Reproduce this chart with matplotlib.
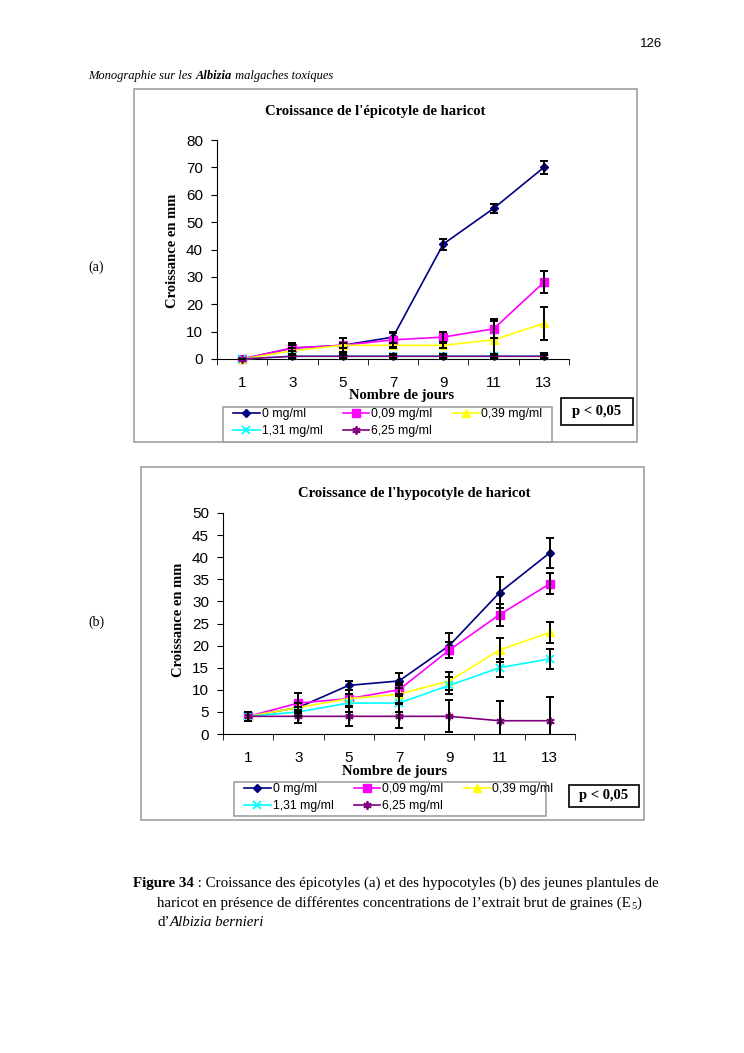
import matplotlib.pyplot as plt
from matplotlib.patches import Rectangle
from matplotlib.lines import Line2D

W, H = 744, 1053

# --- data ---
days = ['1', '3', '5', '7', '9', '11', '13']
series = ['0 mg/ml', '0,09 mg/ml', '0,39 mg/ml', '1,31 mg/ml', '6,25 mg/ml']

# (a) epicotyle
epi_0 = [0, 4, 5, 8, 42, 55, 70]
epi_009 = [0, 4, 5, 7, 8, 11, 28]
epi_039 = [0, 3, 5, 5, 5, 7, 13]
epi_131 = [0, 1, 1, 1, 1, 1, 1]
epi_625 = [0, 1, 1, 1, 1, 1, 1]
epi_err_0 = [0, 1, 1, 2, 2, 1.5, 2.5]
epi_err_009 = [0, 2, 2.5, 2.5, 1.8, 3.5, 4]
epi_err_039 = [0, 1, 1, 1, 1, 7, 6]
epi_err_131 = [0, 0.5, 0.5, 0.5, 0.5, 0.5, 0.5]
epi_err_625 = [0, 1, 1, 1, 1, 1, 1.2]

# (b) hypocotyle
hyp_0 = [4, 6, 11, 12, 20, 32, 41]
hyp_009 = [4, 7, 8, 10, 19, 27, 34]
hyp_039 = [4, 6, 8, 9, 12, 19, 23]
hyp_131 = [4, 5, 7, 7, 11, 15, 17]
hyp_625 = [4, 4, 4, 4, 4, 3, 3]
hyp_err_0 = [1, 1, 1, 1.7, 2.8, 3.5, 3.4]
hyp_err_009 = [1, 2.3, 2, 1.5, 1.8, 2.5, 2.4]
hyp_err_039 = [1, 1, 2, 2, 2, 2.8, 2.3]
hyp_err_131 = [1, 1, 2, 2, 2, 2, 2.2]
hyp_err_625 = [1, 1.4, 2.3, 2.7, 3.6, 4.5, 5.3]

colors = ['#000080', '#FF00FF', '#FFFF00', '#00FFFF', '#800080']
markers = ['D', 's', '^', 'x', (6, 2, 0)]
msizes = [4.5, 6, 6, 6, 6]

serif = 'Liberation Serif'
sans = 'Liberation Sans'


def box(x0, y0, x1, y1):
    return [x0 / W, 1 - y1 / H, (x1 - x0) / W, (y1 - y0) / H]


def fx(x):
    return x / W


def fy(y):
    return 1 - y / H


fig = plt.figure(figsize=(W / 100, H / 100), dpi=100)
renderer = fig.canvas.get_renderer()


def runs(x, y, parts, size):
    # write text pieces one after another on the same baseline
    for txt, kw in parts:
        opts = dict(fontsize=size, family=serif, ha='left', va='baseline')
        kw = dict(kw)
        dy = kw.pop('dy', 0)
        opts.update(kw)
        t = fig.text(fx(x), fy(y + dy), txt, **opts)
        x += t.get_window_extent(renderer).width


# page text
fig.text(fx(662), fy(44), '126', fontsize=9.5, family=sans,
         ha='right', va='center')
runs(88, 79, [('Monographie sur les ', dict(style='italic')),
              ('Albizia', dict(style='italic', weight='bold')),
              (' malgaches toxiques', dict(style='italic'))], 9)
fig.text(fx(88), fy(267), '(a)', fontsize=10, family=serif, va='center')
fig.text(fx(88), fy(622), '(b)', fontsize=10, family=serif, va='center')


def draw_chart(frame, axbox, ylim, ystep, data, errs, title, title_xy,
               ylab_xy, xlab_xy, leg_box, p_box):
    # outer frame
    fig.patches.append(Rectangle((fx(frame[0]), fy(frame[3])),
                                 (frame[2] - frame[0]) / W, (frame[3] - frame[1]) / H,
                                 transform=fig.transFigure, fill=False,
                                 edgecolor='#a0a0a0', linewidth=1.2))
    ax = fig.add_axes(box(*axbox))
    x = list(range(len(days)))
    for vals, err, c, m, ms in zip(data, errs, colors, markers, msizes):
        ax.plot(x, vals, color=c, marker=m, markersize=ms, linewidth=1.2,
                markeredgewidth=1.3 if m == 'x' or isinstance(m, tuple) else 1,
                clip_on=False, zorder=3)
        ax.errorbar(x, vals, yerr=err, fmt='none', ecolor='black',
                    elinewidth=1.4, capsize=3, capthick=1.4, zorder=4)
    ax.set_xlim(-0.5, len(days) - 0.5)
    ax.set_ylim(*ylim)
    ax.set_yticks(range(ylim[0], ylim[1] + 1, ystep))
    ax.set_xticks(x)
    ax.set_xticklabels(days)
    ax.set_xticks([i - 0.5 for i in range(len(days) + 1)], minor=True)
    ax.tick_params(axis='x', which='major', length=0, pad=12, labelsize=11)
    ax.tick_params(axis='x', which='minor', length=4, direction='out')
    ax.tick_params(axis='y', length=4, direction='out', pad=6, labelsize=11)
    for lab in ax.get_xticklabels() + ax.get_yticklabels():
        lab.set_family(sans)
    ax.spines['top'].set_visible(False)
    ax.spines['right'].set_visible(False)
    ax.patch.set_alpha(0)

    fig.text(fx(title_xy[0]), fy(title_xy[1]), title, fontsize=10.5, family=serif,
             weight='bold', ha='center', va='center')
    fig.text(fx(ylab_xy[0]), fy(ylab_xy[1]), 'Croissance en mm', fontsize=10.5,
             family=serif, weight='bold', rotation=90, ha='center', va='center')
    fig.text(fx(xlab_xy[0]), fy(xlab_xy[1]), 'Nombre de jours', fontsize=10.5,
             family=serif, weight='bold', ha='center', va='center')

    # legend, filled row by row like the original
    handles = [Line2D([], [], color=c, marker=m, markersize=ms, linewidth=1.2,
                      markeredgewidth=1.3 if m == 'x' or isinstance(m, tuple) else 1)
               for c, m, ms in zip(colors, markers, msizes)]
    order = [0, 3, 1, 4, 2]
    fig.patches.append(Rectangle((fx(leg_box[0]), fy(leg_box[3])),
                                 (leg_box[2] - leg_box[0]) / W,
                                 (leg_box[3] - leg_box[1]) / H,
                                 transform=fig.transFigure, facecolor='white',
                                 edgecolor='#a0a0a0', linewidth=1.2, zorder=1))
    fig.legend([handles[i] for i in order], [series[i] for i in order], ncol=3,
               loc='upper left',
               bbox_to_anchor=(fx(leg_box[0] + 8), fy(leg_box[1] - 1)),
               frameon=False, prop={'family': sans, 'size': 8.8},
               handlelength=2.2, handletextpad=0.15, columnspacing=1.65,
               labelspacing=0.45, borderpad=0.15, borderaxespad=0)

    # p box
    fig.patches.append(Rectangle((fx(p_box[0]), fy(p_box[3])),
                                 (p_box[2] - p_box[0]) / W, (p_box[3] - p_box[1]) / H,
                                 transform=fig.transFigure, fill=False,
                                 edgecolor='black', linewidth=1.2))
    fig.text(fx((p_box[0] + p_box[2]) / 2), fy((p_box[1] + p_box[3]) / 2), 'p < 0,05',
             fontsize=10.5, family=serif, weight='bold', ha='center', va='center')
    return ax


draw_chart((134, 89, 637, 442), (217, 140, 569, 359), (0, 80), 10,
           [epi_0, epi_009, epi_039, epi_131, epi_625],
           [epi_err_0, epi_err_009, epi_err_039, epi_err_131, epi_err_625],
           "Croissance de l'épicotyle de haricot", (375, 111), (172, 251),
           (402, 395), (223, 407, 552, 442), (561, 398, 633, 425))

draw_chart((141, 467, 644, 820), (223, 513, 575, 734), (0, 50), 5,
           [hyp_0, hyp_009, hyp_039, hyp_131, hyp_625],
           [hyp_err_0, hyp_err_009, hyp_err_039, hyp_err_131, hyp_err_625],
           "Croissance de l'hypocotyle de haricot", (414, 494), (179, 620),
           (395, 771), (234, 782, 546, 816), (569, 785, 639, 807))

# caption
cap = 10.85
runs(133, 887, [('Figure 34', dict(weight='bold')),
                (' : Croissance des épicotyles (a) et des hypocotyles (b) des jeunes '
                 'plantules de', {})], cap)
runs(157, 907, [("haricot en présence de différentes concentrations de l\u2019extrait "
                 "brut de graines (E", {}),
                ('5', dict(fontsize=7.5, dy=2)), (')', {})], cap)
runs(157, 926, [('d\u2019', {}), ('Albizia bernieri', dict(style='italic'))], cap)

fig.savefig('out.png', dpi=100)
